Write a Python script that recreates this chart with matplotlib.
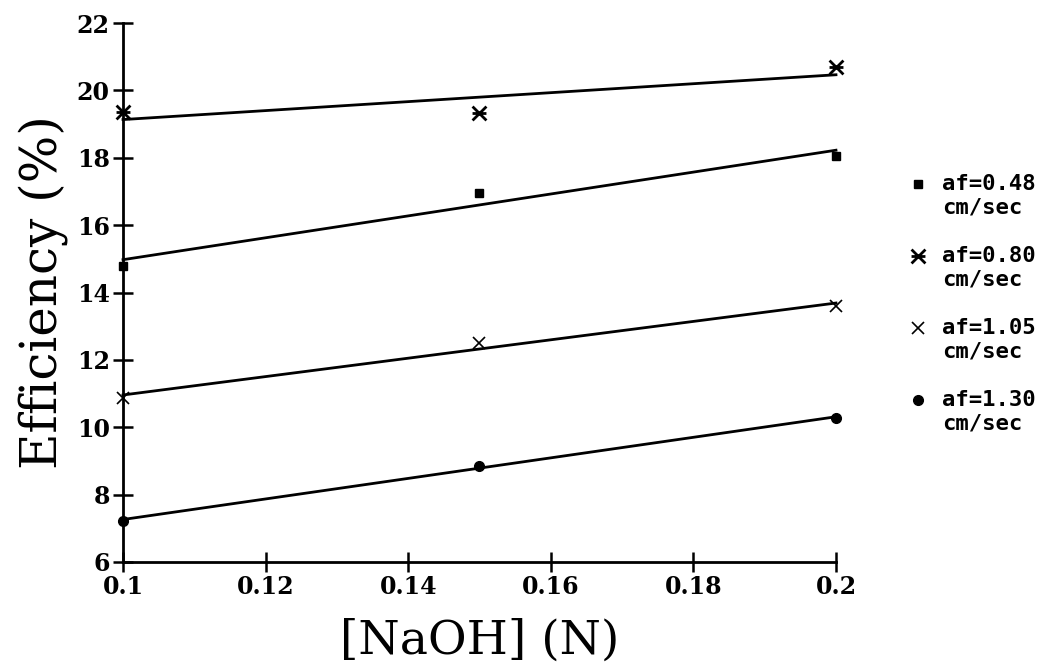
import numpy as np
import matplotlib
matplotlib.use("Agg")
import matplotlib.pyplot as plt
from matplotlib.path import Path
from matplotlib.legend_handler import HandlerLine2D

naoh = [0.10, 0.15, 0.20]

eff_048 = [14.8, 16.95, 18.05]
eff_080 = [19.37, 19.33, 20.7]
eff_105 = [10.87, 12.5, 13.6]
eff_130 = [7.23, 8.85, 10.28]

labels = ["af=0.48\ncm/sec", "af=0.80\ncm/sec", "af=1.05\ncm/sec", "af=1.30\ncm/sec"]
x_ticks = [0.1, 0.12, 0.14, 0.16, 0.18, 0.2]
x_tick_labels = ["0.1", "0.12", "0.14", "0.16", "0.18", "0.2"]
y_ticks = [6, 8, 10, 12, 14, 16, 18, 20, 22]

# x with a bar through it, like the plotter's star symbol
star = Path([(-1, -1), (1, 1), (-1, 1), (1, -1), (-1, 0), (1, 0)],
            [Path.MOVETO, Path.LINETO, Path.MOVETO, Path.LINETO, Path.MOVETO, Path.LINETO])


class FirstLineHandler(HandlerLine2D):
    # lift the legend marker up to the first line of a two-line label
    def create_artists(self, legend, orig_handle, xdescent, ydescent,
                       width, height, fontsize, trans):
        arts = super().create_artists(legend, orig_handle, xdescent, ydescent,
                                      width, height, fontsize, trans)
        for a in arts:
            a.set_ydata(np.asarray(a.get_ydata()) + 0.55 * fontsize)
        return arts


series = [eff_048, eff_080, eff_105, eff_130]
markers = [
    dict(marker="s", markersize=6),
    dict(marker=star, markersize=10, markeredgewidth=2.0),
    dict(marker="x", markersize=8, markeredgewidth=1.2),
    dict(marker="o", markersize=7),
]

fig = plt.figure(figsize=(10.55, 6.72), dpi=100)
ax = fig.add_axes([0.1166, 0.1637, 0.6758, 0.802])

handles = []
for y, m, lab in zip(series, markers, labels):
    # least-squares line through the three points
    slope, icpt = np.polyfit(naoh, y, 1)
    xs = np.array([naoh[0], naoh[-1]])
    ax.plot(xs, slope * xs + icpt, color="black", lw=2.0, clip_on=False)
    h, = ax.plot(naoh, y, linestyle="none", color="black", clip_on=False,
                 label=lab, zorder=3, **m)
    handles.append(h)

ax.set_xlim(0.1, 0.2)
ax.set_ylim(6, 22)
ax.set_xticks(x_ticks)
ax.set_xticklabels(x_tick_labels)
ax.set_yticks(y_ticks)

for s in ["top", "right"]:
    ax.spines[s].set_visible(False)
for s in ["left", "bottom"]:
    ax.spines[s].set_linewidth(2.0)

ax.tick_params(axis="both", direction="inout", length=15, width=1.8,
               labelsize=17, pad=2)
for t in ax.get_xticklabels() + ax.get_yticklabels():
    t.set_fontfamily("DejaVu Serif")
    t.set_fontweight("bold")

ax.set_xlabel("[NaOH] (N)", fontsize=34, family="DejaVu Serif", labelpad=14)
ax.set_ylabel("Efficiency (%)", fontsize=36, family="DejaVu Serif", labelpad=6)

leg = ax.legend(handles=handles, loc="upper left", bbox_to_anchor=(1.105, 0.72),
                frameon=False, handlelength=0.6, handletextpad=0.8,
                labelspacing=1.3, borderpad=0, borderaxespad=0,
                handler_map={h: FirstLineHandler() for h in handles},
                prop=dict(family="DejaVu Sans Mono", weight="bold", size=16))

fig.savefig("out.png", dpi=100, facecolor="white")
